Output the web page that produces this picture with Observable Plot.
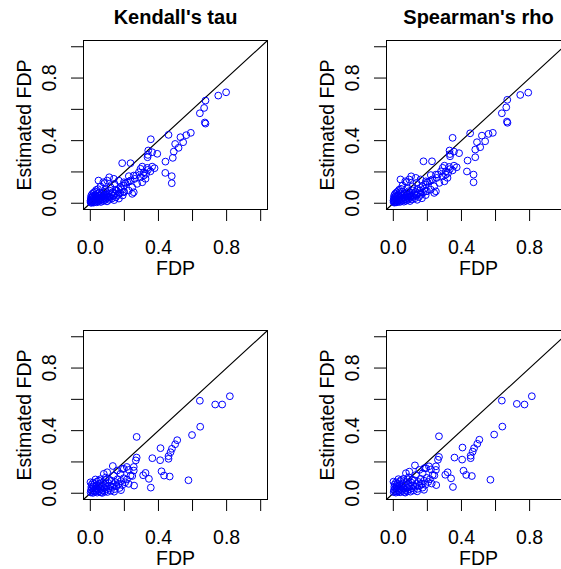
<!DOCTYPE html>
<html>
<head>
<meta charset="utf-8">
<script src="https://cdn.jsdelivr.net/npm/d3@7"></script>
<script src="https://cdn.jsdelivr.net/npm/@observablehq/plot@0.6"></script>
<style>
  html, body { margin: 0; padding: 0; background: #fff; }
  #wrap { position: relative; width: 561px; height: 569px; overflow: hidden; background: #fff; }
  #wrap > div { position: absolute; width: 284px; height: 285px; }
  #wrap svg { max-width: none !important; }
</style>
</head>
<body>
<div id="wrap"></div>
<script>
// ---- data (FDP, Estimated FDP) ----
const panelTitles = ["Kendall's tau", "Spearman's rho", "", ""];
const xTicks = [0, 0.2, 0.4, 0.6, 0.8, 1.0];
const yTicks = [0, 0.2, 0.4, 0.6, 0.8, 1.0];
const tickLabels = [0, 0.4, 0.8];
const axisDomain = [-0.04, 1.04];
const xAxisTitle = "FDP";
const yAxisTitle = "Estimated FDP";

const topKendall = [
  [0.797,0.709],[0.751,0.688],[0.676,0.656],[0.668,0.609],[0.643,0.575],[0.672,0.516],[0.676,0.509],
  [0.590,0.450],[0.563,0.435],[0.529,0.422],[0.545,0.390],[0.498,0.379],[0.518,0.354],[0.459,0.437],[0.355,0.409],
  [0.490,0.330],[0.484,0.290],[0.441,0.266],[0.440,0.194],[0.478,0.173],[0.478,0.128],
  [0.340,0.337],[0.336,0.294],[0.363,0.326],[0.393,0.316],[0.338,0.309],
  [0.187,0.256],[0.236,0.256],[0.305,0.234],[0.334,0.226],[0.363,0.234],[0.377,0.224],
  [0.314,0.198],[0.295,0.220],[0.328,0.188],[0.353,0.204],[0.338,0.213],
  [0.269,0.177],[0.305,0.134],[0.226,0.173],[0.217,0.134],[0.246,0.060],[0.197,0.113],[0.295,0.166],[0.324,0.156],
  [0.261,0.156],[0.226,0.139],[0.285,0.198],[0.255,0.177],[0.314,0.177],[0.275,0.124],
  [0.048,0.145],[0.076,0.134],[0.099,0.145],[0.111,0.166],[0.138,0.156],[0.167,0.145],[0.197,0.134],[0.236,0.145],
  [0.085,0.128],[0.142,0.124],[0.207,0.128],
  [0.167,0.092],[0.246,0.102],[0.226,0.081],[0.255,0.070],[0.060,0.107],[0.089,0.092],[0.119,0.102],[0.148,0.086],
  [0.177,0.102],[0.197,0.070],[0.167,0.060],[0.138,0.049],[0.109,0.038],
  [0.002,0.004],[0.005,0.012],[0.008,0.003],[0.010,0.020],[0.012,0.008],[0.015,0.030],[0.018,0.014],[0.020,0.004],
  [0.022,0.040],[0.025,0.022],[0.028,0.010],[0.030,0.050],[0.032,0.030],[0.035,0.016],[0.038,0.006],[0.040,0.060],
  [0.042,0.038],[0.045,0.024],[0.048,0.012],[0.050,0.045],[0.053,0.070],[0.055,0.030],[0.058,0.018],[0.060,0.052],
  [0.062,0.008],[0.065,0.036],[0.068,0.060],[0.070,0.024],[0.072,0.044],[0.075,0.014],[0.078,0.066],[0.080,0.032],
  [0.083,0.050],[0.085,0.020],[0.088,0.040],[0.090,0.075],[0.093,0.028],[0.095,0.055],[0.098,0.012],[0.100,0.036],
  [0.104,0.062],[0.107,0.046],[0.110,0.022],[0.114,0.080],[0.118,0.040],[0.122,0.056],[0.126,0.030],[0.130,0.070],
  [0.135,0.048],[0.140,0.020],[0.145,0.062],[0.150,0.038],[0.156,0.080],[0.162,0.052],[0.168,0.030],[0.175,0.066],
  [0.182,0.090],[0.190,0.050],[0.198,0.075],[0.003,0.035],[0.006,0.050],[0.012,0.060],[0.020,0.068],[0.028,0.075],
  [0.015,0.045],[0.035,0.085],[0.045,0.090],[0.005,0.025],[0.010,0.040],[0.001,0.015]
];

const topSpearman = [
  [0.792,0.707],[0.745,0.692],[0.669,0.661],[0.663,0.613],[0.637,0.575],[0.667,0.522],[0.670,0.514],
  [0.584,0.450],[0.559,0.443],[0.520,0.432],[0.539,0.396],[0.491,0.390],[0.510,0.358],[0.451,0.447],[0.348,0.418],
  [0.481,0.343],[0.481,0.294],[0.436,0.273],[0.432,0.203],[0.471,0.183],[0.471,0.134],
  [0.330,0.337],[0.333,0.300],[0.356,0.330],[0.386,0.320],[0.332,0.314],
  [0.177,0.268],[0.227,0.268],[0.300,0.240],[0.328,0.232],[0.356,0.240],[0.372,0.230],
  [0.308,0.204],[0.290,0.226],[0.322,0.194],[0.348,0.210],[0.332,0.218],
  [0.262,0.183],[0.300,0.140],[0.220,0.180],[0.211,0.140],[0.240,0.066],[0.191,0.120],[0.290,0.172],[0.318,0.162],
  [0.255,0.162],[0.220,0.146],[0.280,0.204],[0.250,0.183],[0.308,0.183],[0.270,0.130],
  [0.042,0.152],[0.070,0.140],[0.093,0.152],[0.105,0.172],[0.132,0.162],[0.160,0.152],[0.191,0.140],[0.230,0.152],
  [0.079,0.134],[0.136,0.130],[0.201,0.134],
  [0.160,0.098],[0.240,0.108],[0.220,0.087],[0.250,0.076],[0.054,0.113],[0.083,0.098],[0.113,0.108],[0.142,0.092],
  [0.171,0.108],[0.191,0.076],[0.160,0.066],[0.132,0.055],[0.103,0.044],
  [0.002,0.006],[0.005,0.014],[0.008,0.004],[0.010,0.022],[0.012,0.010],[0.015,0.032],[0.018,0.016],[0.020,0.006],
  [0.022,0.042],[0.025,0.024],[0.028,0.012],[0.030,0.052],[0.032,0.032],[0.035,0.018],[0.038,0.008],[0.040,0.062],
  [0.042,0.040],[0.045,0.026],[0.048,0.014],[0.050,0.047],[0.053,0.072],[0.055,0.032],[0.058,0.020],[0.060,0.054],
  [0.062,0.010],[0.065,0.038],[0.068,0.062],[0.070,0.026],[0.072,0.046],[0.075,0.016],[0.078,0.068],[0.080,0.034],
  [0.083,0.052],[0.085,0.022],[0.088,0.042],[0.090,0.077],[0.093,0.030],[0.095,0.057],[0.098,0.014],[0.100,0.038],
  [0.104,0.064],[0.107,0.048],[0.110,0.024],[0.114,0.082],[0.118,0.042],[0.122,0.058],[0.126,0.032],[0.130,0.072],
  [0.135,0.050],[0.140,0.022],[0.145,0.064],[0.150,0.040],[0.156,0.082],[0.162,0.054],[0.168,0.032],[0.175,0.068],
  [0.182,0.092],[0.190,0.052],[0.198,0.077],[0.003,0.037],[0.006,0.052],[0.012,0.062],[0.020,0.070],[0.028,0.077],
  [0.015,0.047],[0.035,0.087],[0.045,0.092],[0.005,0.027],[0.010,0.042],[0.001,0.017]
];

const bottomKendall = [
  [0.819,0.620],[0.774,0.567],[0.733,0.567],[0.643,0.591],[0.645,0.425],[0.597,0.372],[0.576,0.083],
  [0.510,0.339],[0.498,0.313],[0.479,0.284],[0.471,0.262],[0.412,0.288],[0.459,0.237],[0.459,0.220],[0.410,0.211],[0.364,0.224],
  [0.272,0.360],[0.272,0.228],[0.267,0.210],
  [0.418,0.140],[0.433,0.113],[0.466,0.107],[0.310,0.115],[0.324,0.130],[0.344,0.092],[0.355,0.036],[0.257,0.049],
  [0.246,0.110],[0.255,0.168],[0.214,0.168],[0.187,0.156],[0.226,0.149],[0.132,0.174],[0.158,0.145],[0.177,0.124],
  [0.138,0.113],[0.099,0.134],[0.079,0.124],[0.197,0.156],[0.236,0.113],[0.255,0.145],
  [0.001,0.070],[0.050,0.081],[0.089,0.086],
  [0.002,0.005],[0.004,0.020],[0.006,0.040],[0.008,0.055],[0.010,0.010],[0.012,0.030],[0.015,0.002],[0.018,0.045],
  [0.020,0.018],[0.024,0.060],[0.026,0.008],[0.030,0.030],[0.034,0.015],[0.038,0.050],[0.040,0.004],[0.044,0.025],
  [0.048,0.040],[0.052,0.012],[0.056,0.060],[0.060,0.028],[0.064,0.006],[0.068,0.045],[0.072,0.018],[0.076,0.070],
  [0.080,0.034],[0.084,0.010],[0.088,0.052],[0.092,0.024],[0.096,0.040],[0.100,0.008],[0.105,0.066],[0.110,0.030],
  [0.115,0.048],[0.120,0.016],[0.125,0.080],[0.130,0.040],[0.136,0.058],[0.142,0.026],[0.148,0.070],[0.154,0.044],
  [0.160,0.090],[0.166,0.060],[0.172,0.034],[0.180,0.078],[0.188,0.052],[0.196,0.096],[0.205,0.070],[0.215,0.088],
  [0.225,0.060],[0.060,0.090],[0.040,0.075],[0.090,0.100],[0.110,0.085],[0.070,0.002],[0.140,0.010],[0.180,0.020],
  [0.016,0.068],[0.030,0.088]
];

const bottomSpearman = [
  [0.813,0.620],[0.770,0.567],[0.725,0.571],[0.637,0.592],[0.640,0.426],[0.592,0.375],[0.570,0.086],
  [0.505,0.342],[0.493,0.316],[0.474,0.288],[0.466,0.266],[0.406,0.292],[0.454,0.240],[0.454,0.224],[0.404,0.215],[0.359,0.228],
  [0.268,0.364],[0.268,0.232],[0.262,0.214],
  [0.412,0.144],[0.428,0.117],[0.461,0.110],[0.305,0.118],[0.319,0.134],[0.339,0.095],[0.350,0.040],[0.252,0.052],
  [0.241,0.114],[0.250,0.172],[0.209,0.172],[0.182,0.160],[0.221,0.152],[0.127,0.178],[0.153,0.149],[0.172,0.128],
  [0.133,0.117],[0.094,0.138],[0.074,0.128],[0.192,0.160],[0.231,0.117],[0.250,0.149],
  [0.001,0.074],[0.046,0.085],[0.084,0.090],
  [0.002,0.007],[0.004,0.022],[0.006,0.042],[0.008,0.057],[0.010,0.012],[0.012,0.032],[0.015,0.004],[0.018,0.047],
  [0.020,0.020],[0.024,0.062],[0.026,0.010],[0.030,0.032],[0.034,0.017],[0.038,0.052],[0.040,0.006],[0.044,0.027],
  [0.048,0.042],[0.052,0.014],[0.056,0.062],[0.060,0.030],[0.064,0.008],[0.068,0.047],[0.072,0.020],[0.076,0.072],
  [0.080,0.036],[0.084,0.012],[0.088,0.054],[0.092,0.026],[0.096,0.042],[0.100,0.010],[0.105,0.068],[0.110,0.032],
  [0.115,0.050],[0.120,0.018],[0.125,0.082],[0.130,0.042],[0.136,0.060],[0.142,0.028],[0.148,0.072],[0.154,0.046],
  [0.160,0.092],[0.166,0.062],[0.172,0.036],[0.180,0.080],[0.188,0.054],[0.196,0.098],[0.205,0.072],[0.215,0.090],
  [0.225,0.062],[0.060,0.092],[0.040,0.077],[0.090,0.102],[0.110,0.087],[0.070,0.004],[0.140,0.012],[0.180,0.022],
  [0.016,0.070],[0.030,0.090]
];

const panelData = [topKendall, topSpearman, bottomKendall, bottomSpearman];
const panelOffsets = [[0, 0], [303, 0], [0, 290], [303, 290]];

const FONT = "'Liberation Sans', Arial, Helvetica, sans-serif";
const fmt = d => d.toFixed(1);

function panel(points, title) {
  const marks = [
    Plot.frame({stroke: "black", strokeWidth: 1}),
    Plot.axisX({ticks: xTicks, tickSize: 12, tickPadding: 19, fontSize: 19.5,
      tickFormat: d => tickLabels.includes(d) ? fmt(d) : "", label: null}),
    Plot.axisY({ticks: yTicks, tickSize: 12, tickFormat: () => "", label: null}),
    Plot.text(tickLabels, {y: d => d, text: fmt, frameAnchor: "left", rotate: -90, textAnchor: "middle",
      dx: -33.5, lineAnchor: "middle", fontSize: 19.5}),
    Plot.line(axisDomain, {x: d => d, y: d => d, stroke: "black", strokeWidth: 1.1}),
    Plot.dot(points, {x: d => d[0], y: d => d[1], r: 3.4, stroke: "blue", fill: "none", strokeWidth: 1}),
    Plot.text([xAxisTitle], {frameAnchor: "bottom", textAnchor: "middle", dy: 59.5, lineAnchor: "middle", fontSize: 19.5}),
    Plot.text([yAxisTitle], {frameAnchor: "left", rotate: -90, textAnchor: "middle", dx: -58.5, lineAnchor: "middle", fontSize: 19.5})
  ];
  if (title) marks.push(Plot.text([title], {frameAnchor: "top", textAnchor: "middle", dy: -23, lineAnchor: "middle",
    fontSize: 20, fontWeight: "bold"}));
  return Plot.plot({
    width: 284, height: 285,
    marginLeft: 83, marginRight: 17, marginTop: 40, marginBottom: 76,
    x: {domain: axisDomain, axis: null},
    y: {domain: axisDomain, axis: null},
    style: {fontFamily: FONT, fontSize: "19.5px", background: "white", color: "black", overflow: "visible"},
    marks
  });
}

const wrap = document.getElementById("wrap");
panelData.forEach((pts, i) => {
  const holder = document.createElement("div");
  holder.style.left = panelOffsets[i][0] + "px";
  holder.style.top = panelOffsets[i][1] + "px";
  holder.appendChild(panel(pts, panelTitles[i]));
  wrap.appendChild(holder);
});
</script>
</body>
</html>
